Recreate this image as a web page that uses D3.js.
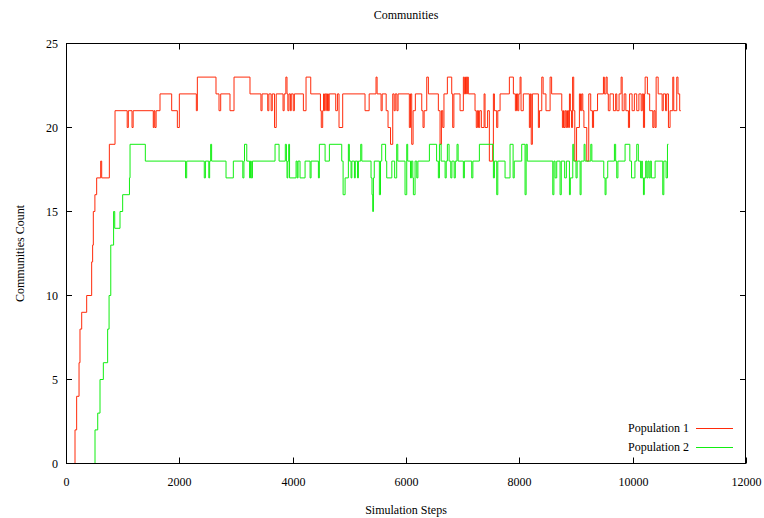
<!DOCTYPE html>
<html><head><meta charset="utf-8">
<script src="https://cdn.jsdelivr.net/npm/d3@7"></script>
<style>body{margin:0;background:#fff}svg{display:block}text{font-family:"Liberation Serif","Times New Roman",serif;font-size:12px;fill:#000}</style>
</head><body><svg id="c" width="764" height="518"></svg>
<script>
const xTicks = [0, 2000, 4000, 6000, 8000, 10000, 12000];
const yTicks = [0, 5, 10, 15, 20, 25];
const seriesNames = ["Population 1", "Population 2"];
const p1 = [[0,0],[159,2],[188,4],[230,6],[247,8],[277,9],[365,10],[453,12],[470,13],[482,15],[510,16],[541,17],[612,18],[630,17],[765,19],[865,21],[1080,20],[1100,21],[1165,20],[1185,21],[1540,20],[1555,21],[1570,20],[1590,21],[1659,22],[1865,21],[1965,20],[2000,22],[2300,21],[2318,23],[2647,22],[2700,21],[2730,22],[2894,21],[2965,23],[3247,22],[3440,21],[3460,22],[3560,21],[3580,22],[3620,21],[3640,22],[3680,20],[3710,22],[3830,21],[3850,22],[3880,23],[3900,22],[3915,21],[3935,22],[3960,21],[3975,22],[4010,21],[4030,22],[4189,21],[4236,23],[4319,22],[4490,21],[4505,20],[4530,21],[4545,22],[4560,21],[4575,22],[4600,21],[4615,22],[4630,21],[4645,22],[4760,21],[4790,22],[4818,20],[4883,22],[5277,21],[5350,22],[5471,23],[5490,22],[5560,21],[5580,22],[5650,21],[5683,20],[5727,19],[5766,22],[5790,21],[5810,22],[5840,21],[5860,22],[6059,20],[6080,22],[6101,19],[6125,21],[6165,22],[6278,21],[6300,20],[6320,21],[6366,23],[6395,22],[6571,21],[6601,19],[6625,21],[6648,20],[6670,22],[6730,23],[6807,22],[6824,20],[6845,22],[6954,21],[7012,23],[7030,22],[7050,23],[7070,22],[7083,23],[7100,22],[7218,21],[7240,20],[7260,21],[7280,20],[7300,21],[7330,20],[7378,22],[7395,20],[7440,21],[7471,18],[7530,19],[7542,22],[7560,21],[7600,20],[7620,21],[7660,22],[7824,23],[7895,22],[7930,21],[7950,22],[7970,21],[7990,22],[8013,23],[8030,21],[8070,22],[8177,20],[8195,22],[8210,19],[8230,22],[8336,20],[8355,21],[8396,23],[8420,22],[8470,21],[8543,23],[8570,22],[8749,21],[8760,20],[8780,21],[8790,20],[8810,21],[8830,20],[8850,21],[8870,20],[8884,22],[8900,21],[8920,20],[8940,23],[8960,21],[8979,18],[9010,20],[9060,22],[9080,21],[9100,22],[9120,21],[9140,20],[9190,18],[9225,22],[9260,21],[9290,20],[9310,21],[9380,22],[9484,23],[9500,22],[9530,23],[9550,22],[9570,21],[9600,22],[9660,21],[9700,22],[9720,21],[9760,22],[9796,23],[9815,21],[9850,22],[9880,21],[9925,20],[9945,22],[9990,21],[10030,22],[10072,21],[10110,22],[10150,21],[10170,22],[10190,20],[10210,22],[10220,23],[10260,22],[10300,21],[10355,20],[10375,21],[10396,20],[10414,23],[10450,22],[10520,21],[10540,22],[10580,21],[10600,22],[10631,20],[10660,21],[10708,23],[10725,21],[10778,23],[10800,22],[10830,21],[10850,21]];
const p2 = [[0,0],[512,2],[560,3],[600,5],[659,6],[735,8],[760,10],[790,13],[840,15],[860,14],[953,15],[1000,16],[1120,17],[1130,19],[1400,18],[2110,17],[2130,18],[2440,17],[2460,18],[2520,17],[2535,18],[2553,19],[2570,18],[2824,17],[2953,18],[3120,17],[3140,18],[3150,19],[3190,18],[3240,17],[3255,18],[3270,17],[3290,18],[3689,19],[3760,18],[3870,19],[3890,18],[3900,17],[3915,18],[3930,19],[3945,17],[4060,18],[4080,17],[4095,18],[4130,17],[4219,18],[4307,17],[4325,18],[4454,17],[4471,19],[4572,18],[4648,19],[4866,18],[4890,16],[4925,17],[4983,19],[5000,18],[5030,17],[5045,18],[5090,17],[5105,18],[5145,17],[5160,18],[5201,19],[5220,18],[5383,17],[5400,16],[5413,15],[5425,17],[5440,18],[5530,16],[5550,18],[5572,19],[5640,18],[5660,17],[5750,18],[5800,17],[5836,19],[5855,18],[5983,16],[6013,19],[6030,18],[6080,17],[6095,18],[6120,17],[6130,16],[6160,18],[6190,17],[6210,18],[6413,19],[6540,18],[6571,17],[6590,19],[6620,18],[6690,17],[6710,18],[6730,19],[6760,18],[6790,17],[6810,18],[6850,17],[6870,18],[6900,19],[6920,18],[7012,17],[7030,18],[7160,17],[7180,18],[7295,19],[7542,17],[7560,18],[7601,16],[7620,18],[7748,17],[7836,19],[7890,17],[7910,18],[8042,19],[8101,16],[8120,19],[8140,18],[8590,16],[8610,18],[8631,17],[8660,18],[8719,16],[8740,18],[8800,17],[8830,18],[8884,16],[8900,17],[8943,19],[8960,18],[9000,17],[9020,18],[9072,16],[9090,18],[9143,19],[9160,18],[9261,19],[9280,18],[9490,17],[9513,16],[9530,17],[9560,18],[9678,19],[9700,18],[9719,17],[9740,18],[9866,19],[9950,18],[9980,17],[10040,18],[10072,19],[10100,18],[10140,17],[10160,18],[10170,17],[10190,16],[10205,17],[10230,18],[10250,17],[10270,18],[10290,17],[10310,18],[10330,17],[10396,18],[10531,16],[10550,18],[10590,17],[10614,19],[10631,19]];
const colors = ["#ff2a0a", "#11ee11"];

const svg = d3.select("#c");
const L = 66, R = 746, T = 43.5, B = 463.5;
const x = d3.scaleLinear().domain([0, 12000]).range([L, R]);
const y = d3.scaleLinear().domain([0, 25]).range([B, T]);

// ticks (inward, mirrored)
const tl = 6;
const g = svg.append("g");
xTicks.forEach(t => {
  const px = Math.round(x(t)) + 0.5;
  g.append("line").attr("x1", px).attr("x2", px).attr("y1", B).attr("y2", B - tl).attr("stroke", "#000");
  g.append("line").attr("x1", px).attr("x2", px).attr("y1", T).attr("y2", T + tl).attr("stroke", "#000");
  g.append("text").attr("x", px).attr("y", 486).attr("text-anchor", "middle").text(t);
});
yTicks.forEach(t => {
  const py = Math.round(y(t) - 0.5) + 0.5;
  g.append("line").attr("x1", L).attr("x2", L + tl).attr("y1", py).attr("y2", py).attr("stroke", "#000");
  g.append("line").attr("x1", R).attr("x2", R - tl).attr("y1", py).attr("y2", py).attr("stroke", "#000");
  g.append("text").attr("x", 58).attr("y", py + 4).attr("text-anchor", "end").text(t);
});

const line = d3.line().x(d => x(d[0])).y(d => y(d[1])).curve(d3.curveStepAfter);
[p1, p2].forEach((s, i) => {
  svg.append("path").attr("d", line(s)).attr("fill", "none").attr("stroke", colors[i]).attr("stroke-width", 1);
});

svg.append("rect").attr("x", L + 0.5).attr("y", T).attr("width", R - L - 1).attr("height", B - T)
  .attr("fill", "none").attr("stroke", "#000");

// titles
svg.append("text").attr("x", (L + R) / 2).attr("y", 19).attr("text-anchor", "middle").text("Communities");
svg.append("text").attr("x", (L + R) / 2).attr("y", 514).attr("text-anchor", "middle").text("Simulation Steps");
svg.append("text").attr("transform", `translate(24,${(T + B) / 2}) rotate(-90)`).attr("text-anchor", "middle").text("Communities Count");

// legend
seriesNames.forEach((n, i) => {
  const ly = 428 + i * 19;
  svg.append("text").attr("x", 689).attr("y", ly + 4).attr("text-anchor", "end").text(n);
  svg.append("line").attr("x1", 696).attr("x2", 733).attr("y1", ly + 0.5).attr("y2", ly + 0.5).attr("stroke", colors[i]);
});
</script></body></html>
